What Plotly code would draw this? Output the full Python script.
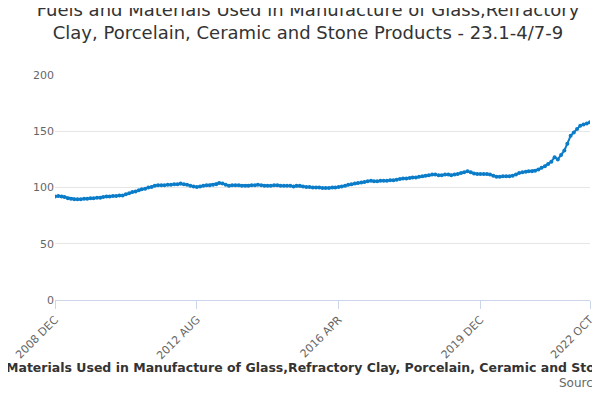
import pandas as pd
import plotly.graph_objs as go

start = "2008-12-01"
values = [
    92, 92.5, 92, 91.5, 90.5, 90, 89.5, 89.5,
    89.5, 90, 90, 90.5, 90.5, 91, 91, 91.5,
    92, 92, 92.5, 92.5, 93, 93, 94, 95,
    96, 96.5, 97.5, 98.5, 99, 100, 100.5, 101.5,
    102, 102, 102, 102.5, 102.5, 103, 103, 103.5,
    103, 102.5, 101.5, 101, 100.5, 101, 101.5, 102,
    102, 102.5, 103, 104, 103.5, 102.5, 101.5, 102,
    102, 102, 101.5, 101.5, 101.5, 102, 102, 102.5,
    102, 101.5, 101.5, 101.5, 102, 102, 101.5, 101.5,
    101.5, 101.5, 101, 101.5, 101.5, 101, 100.5, 100.5,
    100, 100, 100, 99.5, 99.5, 99.5, 100, 100,
    100.5, 101, 101.5, 102.5, 103, 103.5, 104, 104.5,
    105, 105.5, 106, 105.5, 105.5, 106, 106, 106,
    106.5, 106.5, 107, 107.5, 108, 108, 108.5, 109,
    109, 109.5, 110, 110.5, 111, 111.5, 111.5, 111,
    111, 111.5, 111.5, 111, 111.5, 112, 113, 113.5,
    114.5, 113.5, 112.5, 112, 112, 112, 112, 111.5,
    110.5, 109.5, 109.5, 110, 110, 110, 110.5, 111.5,
    113, 113.5, 114, 114.5, 114.5, 115, 116, 117.5,
    119, 121, 123, 127, 125, 129, 133, 139,
    146, 149, 152, 155, 156, 157, 158,
]
dates = pd.date_range(start, periods=len(values), freq="MS")
tick_dates = ["2008-12-01", "2012-08-01", "2016-04-01", "2019-12-01", "2022-10-01"]
tick_labels = ["2008 DEC", "2012 AUG", "2016 APR", "2019 DEC", "2022 OCT"]

trace = go.Scatter(
    x=dates, y=values, mode="lines+markers",
    line=dict(color="#0a7cc8", width=2),
    marker=dict(color="#0a7cc8", size=4),
    hoverinfo="x+y",
)

layout = go.Layout(
    width=600, height=400,
    paper_bgcolor="white", plot_bgcolor="white",
    font=dict(family="DejaVu Sans", color="#666"),
    title=dict(
        text="Fuels and Materials Used in Manufacture of Glass,Refractory<br>Clay, Porcelain, Ceramic and Stone Products - 23.1-4/7-9",
        x=0.5, xanchor="center", y=0.98, yanchor="top", font=dict(size=18, color="#333"),
    ),
    margin=dict(l=47, r=18, t=67, b=108),
    showlegend=False,
    xaxis=dict(
        tickvals=pd.to_datetime(tick_dates), ticktext=tick_labels,
        tickangle=-45, tickfont=dict(size=11, color="#666"),
        range=[dates[0], dates[-1]], showgrid=False, automargin=False,
        showline=True, linecolor="#ccd6eb", ticks="outside",
        tickcolor="#ccd6eb", ticklen=8, zeroline=False,
    ),
    yaxis=dict(
        range=[0, 200], tickvals=[0, 50, 100, 150, 200], automargin=False,
        tickfont=dict(size=11, color="#666"),
        gridcolor="#e6e6e6", zeroline=False,
    ),
    annotations=[
        dict(text="<b>Fuels and Materials Used in Manufacture of Glass,Refractory Clay, Porcelain, Ceramic and Stone Products</b>",
             xref="paper", yref="paper", x=0.47, y=-0.34, xanchor="center",
             showarrow=False, font=dict(size=12.5, color="#333")),
        dict(text="Source:", xref="paper", x=1.03, yref="paper", y=-0.41,
             xanchor="right", showarrow=False, font=dict(size=12, color="#666")),
    ],
)

fig = go.Figure(data=[trace], layout=layout)
fig.write_html("out.html")
